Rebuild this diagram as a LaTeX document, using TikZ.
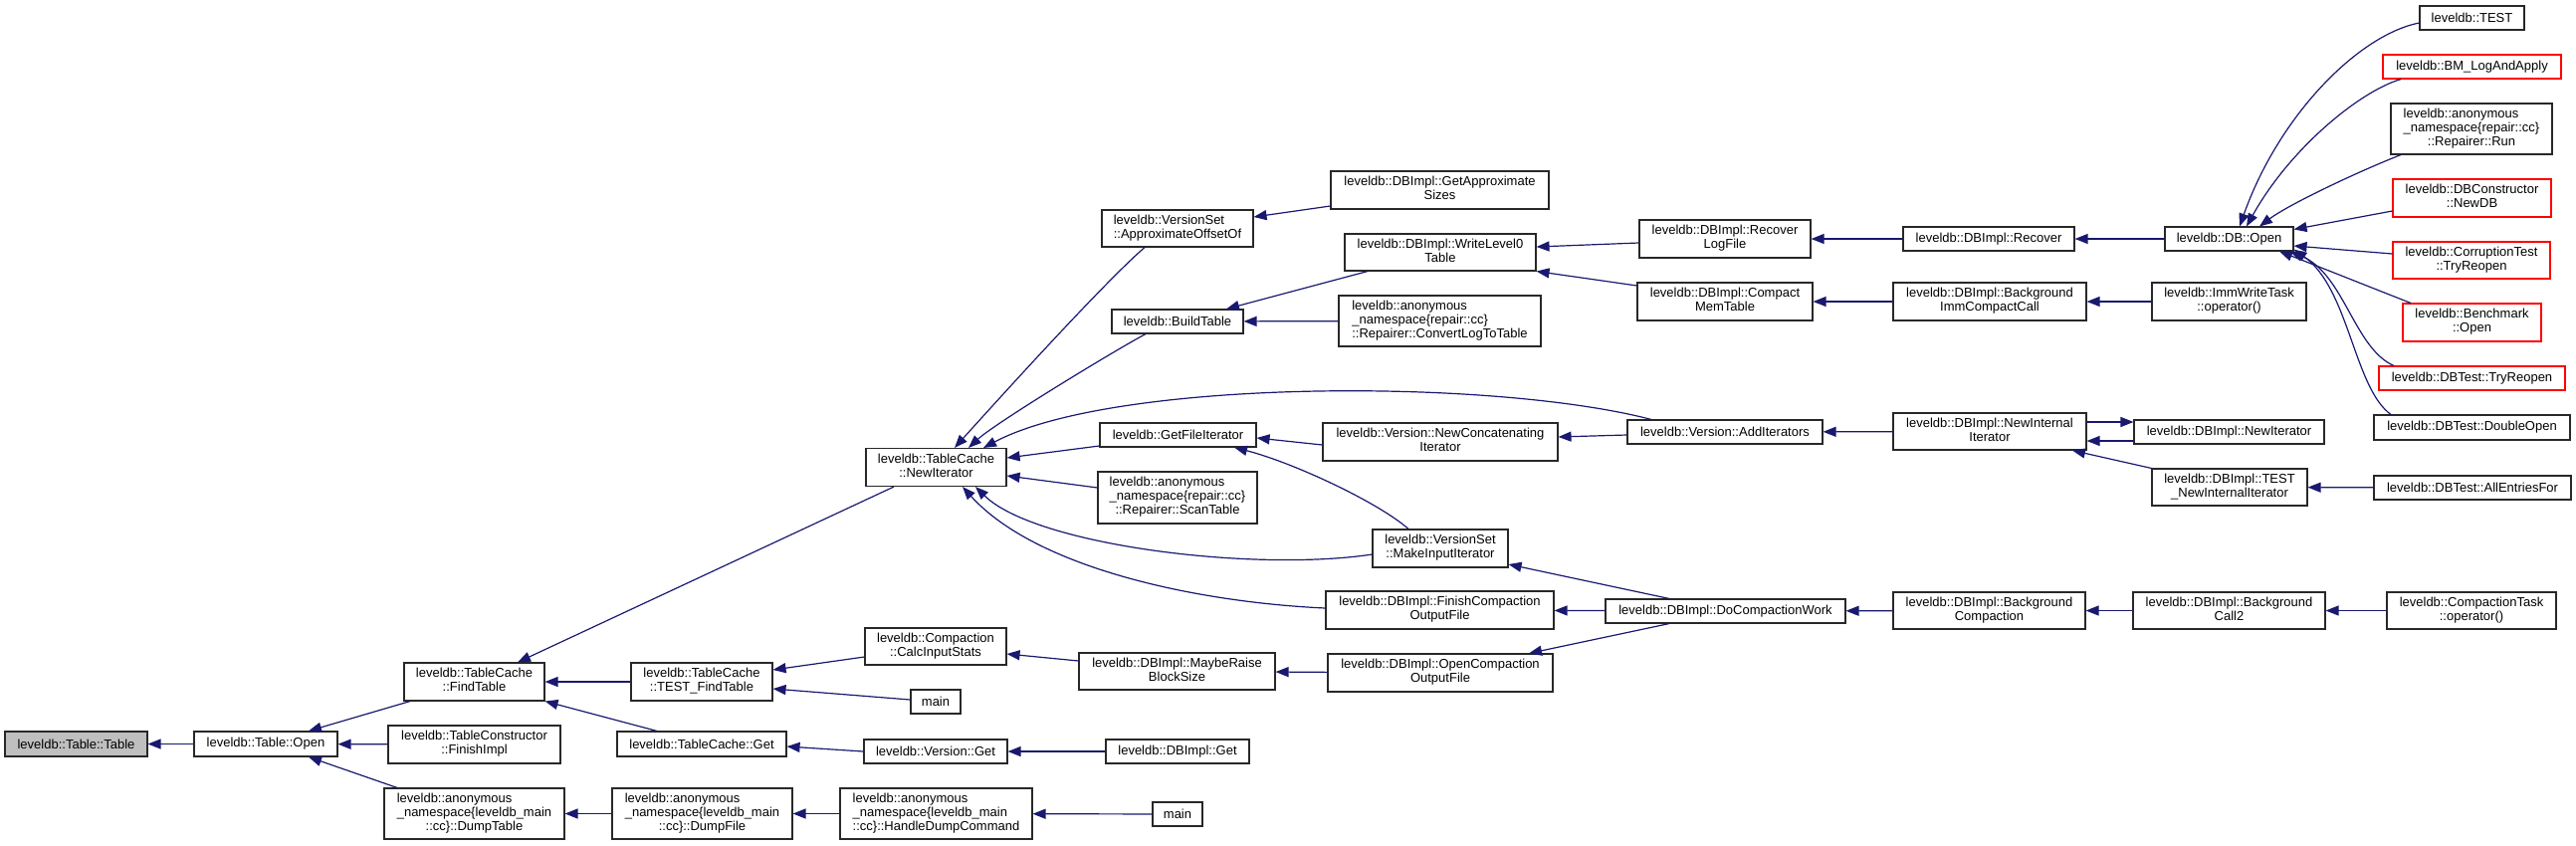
\documentclass[tikz,border=0pt]{standalone}
\usepackage{fontspec}
\setmainfont{Liberation Sans}
\usetikzlibrary{arrows.meta}
\definecolor{edgeblue}{RGB}{25,25,112}
\definecolor{nodegray}{RGB}{191,191,191}
\definecolor{boxline}{RGB}{40,40,40}
\newcommand\twol[2]{\begin{tabular}{@{}l@{}}#1\\\multicolumn{1}{@{}c@{}}{#2}\end{tabular}}
\newcommand\threel[3]{\begin{tabular}{@{}l@{}}#1\\#2\\\multicolumn{1}{@{}c@{}}{#3}\end{tabular}}
\begin{document}
\begin{tikzpicture}[x=1pt,y=-1pt,
  font=\fontsize{13}{14}\selectfont,
  nbox/.style={draw=boxline,line width=1.1pt,fill=white,inner sep=0pt,minimum height=24pt,align=center},
  rbox/.style={nbox,draw=red},
  cedge/.style={draw=edgeblue,line width=1.2pt,-{Triangle[length=13pt,width=10pt]}}]
\fill[white] (0,0) rectangle (2588,849);
\useasboundingbox (0,0) rectangle (2588,849);
% column 1-2
\node[nbox,fill=nodegray,minimum width=143pt,minimum height=25pt] (tt) at (76.5,747.5) {leveldb::Table::Table};
\node[nbox,minimum width=144pt,minimum height=25pt] (topen) at (267,747.5) {leveldb::Table::Open};
% column 3
\node[nbox,minimum width=141pt,minimum height=38pt] (find) at (476.5,685) {\twol{leveldb::TableCache}{::FindTable}};
\node[nbox,minimum width=173pt,minimum height=38pt] (finish) at (476.5,748) {\twol{leveldb::TableConstructor}{::FinishImpl}};
\node[nbox,minimum width=181pt,minimum height=51pt] (dumptable) at (476.5,817.5) {\threel{leveldb::anonymous}{\_namespace\{leveldb\_main}{::cc\}::DumpTable}};
% column 4
\node[nbox,minimum width=142pt,minimum height=38pt] (testfind) at (705,685) {\twol{leveldb::TableCache}{::TEST\_FindTable}};
\node[nbox,minimum width=170pt,minimum height=25pt] (tcget) at (705,747.5) {leveldb::TableCache::Get};
\node[nbox,minimum width=181pt,minimum height=51pt] (dumpfile) at (705.5,817.5) {\threel{leveldb::anonymous}{\_namespace\{leveldb\_main}{::cc\}::DumpFile}};
% column 5
\node[nbox,minimum width=141pt,minimum height=38pt] (newit) at (940.5,469.5) {\twol{leveldb::TableCache}{::NewIterator}};
\node[nbox,minimum width=142pt,minimum height=37pt] (calc) at (940,649.5) {\twol{leveldb::Compaction}{::CalcInputStats}};
\node[nbox,minimum width=50pt] (main1) at (940,705) {main};
\node[nbox,minimum width=144pt] (vget) at (940,755) {leveldb::Version::Get};
\node[nbox,minimum width=193pt,minimum height=51pt] (handle) at (940.5,817.5) {\threel{leveldb::anonymous}{\_namespace\{leveldb\_main}{::cc\}::HandleDumpCommand}};
% column 6
\node[nbox,minimum width=152pt,minimum height=37pt] (approx) at (1183,229.5) {\twol{leveldb::VersionSet}{::ApproximateOffsetOf}};
\node[nbox,minimum width=132pt] (build) at (1183,323) {leveldb::BuildTable};
\node[nbox,minimum width=157pt] (getfile) at (1183.5,437) {leveldb::GetFileIterator};
\node[nbox,minimum width=160pt,minimum height=52pt] (scan) at (1183,500) {\threel{leveldb::anonymous}{\_namespace\{repair::cc\}}{::Repairer::ScanTable}};
\node[nbox,minimum width=197pt,minimum height=37pt] (maybe) at (1182.5,674.5) {\twol{leveldb::DBImpl::MaybeRaise}{BlockSize}};
\node[nbox,minimum width=144pt] (dbget) at (1183,755) {leveldb::DBImpl::Get};
\node[nbox,minimum width=50pt] (main2) at (1183,818) {main};
% column 7
\node[nbox,minimum width=219pt,minimum height=38pt] (gas) at (1446.5,191) {\twol{leveldb::DBImpl::GetApproximate}{Sizes}};
\node[nbox,minimum width=192pt,minimum height=37pt] (wl0) at (1447,253.5) {\twol{leveldb::DBImpl::WriteLevel0}{Table}};
\node[nbox,minimum width=203pt,minimum height=51pt] (convert) at (1446.5,322.5) {\threel{leveldb::anonymous}{\_namespace\{repair::cc\}}{::Repairer::ConvertLogToTable}};
\node[nbox,minimum width=236pt,minimum height=38pt] (concat) at (1447,444) {\twol{leveldb::Version::NewConcatenating}{Iterator}};
\node[nbox,minimum width=136pt,minimum height=38pt] (makein) at (1447,551) {\twol{leveldb::VersionSet}{::MakeInputIterator}};
\node[nbox,minimum width=229pt,minimum height=38pt] (finishco) at (1446.5,613) {\twol{leveldb::DBImpl::FinishCompaction}{OutputFile}};
\node[nbox,minimum width=226pt,minimum height=38pt] (openco) at (1447,676) {\twol{leveldb::DBImpl::OpenCompaction}{OutputFile}};
% column 8
\node[nbox,minimum width=172pt,minimum height=38pt] (reclog) at (1733,240) {\twol{leveldb::DBImpl::Recover}{LogFile}};
\node[nbox,minimum width=176pt,minimum height=38pt] (compmem) at (1733,303) {\twol{leveldb::DBImpl::Compact}{MemTable}};
\node[nbox,minimum width=196pt] (additer) at (1733,434) {leveldb::Version::AddIterators};
\node[nbox,minimum width=241pt] (docomp) at (1733.5,614) {leveldb::DBImpl::DoCompactionWork};
% column 9
\node[nbox,minimum width=172pt] (recover) at (1998,240) {leveldb::DBImpl::Recover};
\node[nbox,minimum width=194pt,minimum height=38pt] (bgimm) at (1999,303) {\twol{leveldb::DBImpl::Background}{ImmCompactCall}};
\node[nbox,minimum width=194pt,minimum height=37pt] (newint) at (1999,433.5) {\twol{leveldb::DBImpl::NewInternal}{Iterator}};
\node[nbox,minimum width=193pt,minimum height=37pt] (bgcomp) at (1998.5,613.5) {\twol{leveldb::DBImpl::Background}{Compaction}};
% column 10
\node[nbox,minimum width=129pt] (dbopen) at (2239.5,240) {leveldb::DB::Open};
\node[nbox,minimum width=155pt,minimum height=38pt] (immw) at (2239.5,303) {\twol{leveldb::ImmWriteTask}{::operator()}};
\node[nbox,minimum width=191pt] (dbnewit) at (2239.5,434) {leveldb::DBImpl::NewIterator};
\node[nbox,minimum width=156pt,minimum height=37pt] (testnewint) at (2240,489.5) {\twol{leveldb::DBImpl::TEST}{\_NewInternalIterator}};
\node[nbox,minimum width=193pt,minimum height=37pt] (bgcall2) at (2239.5,613.5) {\twol{leveldb::DBImpl::Background}{Call2}};
% column 11
\node[nbox,minimum width=105pt] (test) at (2483.5,18) {leveldb::TEST};
\node[rbox,minimum width=179pt] (bm) at (2483.5,67) {leveldb::BM\_LogAndApply};
\node[nbox,minimum width=162pt,minimum height=51pt] (run) at (2483,129.5) {\threel{leveldb::anonymous}{\_namespace\{repair::cc\}}{::Repairer::Run}};
\node[rbox,minimum width=159pt,minimum height=38pt] (newdb) at (2483.5,199) {\twol{leveldb::DBConstructor}{::NewDB}};
\node[rbox,minimum width=158pt,minimum height=37pt] (corr) at (2483,261.5) {\twol{leveldb::CorruptionTest}{::TryReopen}};
\node[rbox,minimum width=139pt,minimum height=38pt] (bench) at (2483.5,324) {\twol{leveldb::Benchmark}{::Open}};
\node[rbox,minimum width=187pt] (dbtry) at (2483.5,380) {leveldb::DBTest::TryReopen};
\node[nbox,minimum width=197pt,minimum height=25pt] (dbl) at (2483.5,429.5) {leveldb::DBTest::DoubleOpen};
\node[nbox,minimum width=198pt] (allent) at (2484,490) {leveldb::DBTest::AllEntriesFor};
\node[nbox,minimum width=170pt,minimum height=37pt] (ctask) at (2483,613.5) {\twol{leveldb::CompactionTask}{::operator()}};
% edges
\draw[cedge] (topen) -- (tt);
\draw[cedge] ([xshift=-64.5pt]find.south) -- ([xshift=43pt]topen.north);
\draw[cedge] (finish) -- (topen);
\draw[cedge] ([xshift=-77.5pt]dumptable.north) -- ([xshift=43pt]topen.south);
\draw[cedge] ([xshift=-42.5pt]newit.south) -- ([xshift=43.5pt]find.north);
\draw[cedge] (testfind) -- (find);
\draw[cedge] ([xshift=-45pt]tcget.north) -- (find.south east);
\draw[cedge] ([yshift=-10.5pt]calc.west) -- ([yshift=12pt]testfind.east);
\draw[cedge] ([yshift=2pt]main1.west) -- ([yshift=-7pt]testfind.east);
\draw[cedge] (vget.west) -- ([yshift=-2.5pt]tcget.east);
\draw[cedge] (dumpfile) -- (dumptable);
\draw[cedge] (handle) -- (dumpfile);
\draw[cedge] (main2) -- (handle);
\draw[cedge] ([xshift=-33pt]approx.south) .. controls (1110,283) and (1004,400) .. ([xshift=18.5pt]newit.north);
\draw[cedge] ([xshift=-32pt]build.south) .. controls (1120,352) and (1000,425) .. ([xshift=32.5pt]newit.north);
\draw[cedge] ([xshift=-74pt]additer.north) .. controls (1500,380) and (1120,380) .. ([xshift=47.5pt]newit.north);
\draw[cedge] ([yshift=-11pt]getfile.west) -- ([yshift=9.5pt]newit.east);
\draw[cedge] ([yshift=10pt]scan.west) -- ([yshift=-8.5pt]newit.east);
\draw[cedge] ([yshift=-6pt]makein.west) .. controls (1260,575) and (1040,548) .. ([xshift=39.5pt]newit.south);
\draw[cedge] ([yshift=2pt]finishco.west) .. controls (1200,605) and (1040,570) .. ([xshift=26.5pt]newit.south);
\draw[cedge] ([yshift=-16pt]gas.west) -- ([yshift=11.5pt]approx.east);
\draw[cedge] ([xshift=-73pt]wl0.south) -- ([xshift=49pt]build.north);
\draw[cedge] (convert) -- (build);
\draw[cedge] ([yshift=-4pt]reclog.west) -- ([yshift=5.5pt]wl0.east);
\draw[cedge] ([yshift=16pt]compmem.west) -- (wl0.south east);
\draw[cedge] (recover) -- (reclog);
\draw[cedge] (dbopen) -- (recover);
\draw[cedge] (bgimm) -- (compmem);
\draw[cedge] (immw) -- (bgimm);
\draw[cedge] ([yshift=-3pt]concat.west) -- ([yshift=-3pt]getfile.east);
\draw[cedge] ([xshift=-32pt]makein.north) .. controls (1385,505) and (1300,465) .. ([xshift=56.5pt]getfile.south);
\draw[cedge] ([yshift=-3pt]additer.west) -- ([yshift=5pt]concat.east);
\draw[cedge] (newint) -- (additer);
\draw[cedge] ([yshift=9.5pt]newint.east) -- ([yshift=10pt]dbnewit.west);
\draw[cedge] ([yshift=-9pt]dbnewit.west) -- ([yshift=-9.5pt]newint.east);
\draw[cedge] (testnewint.north west) -- ([xshift=83pt]newint.south);
\draw[cedge] (allent) -- (testnewint);
\draw[cedge] ([xshift=-56.5pt]docomp.north) -- ([yshift=-16pt]makein.east);
\draw[cedge] (docomp) -- (finishco);
\draw[cedge] ([xshift=-56.5pt]docomp.south) -- ([xshift=89pt]openco.north);
\draw[cedge] (openco) -- (maybe);
\draw[cedge] ([yshift=10.5pt]maybe.west) -- ([yshift=-7.5pt]calc.east);
\draw[cedge] (dbget) -- (vget);
\draw[cedge] (bgcomp) -- (docomp);
\draw[cedge] (bgcall2) -- (bgcomp);
\draw[cedge] (ctask) -- (bgcall2);
% DB::Open callers
\draw[cedge] ([yshift=-5pt]test.west) .. controls (2370,35) and (2290,115) .. ([xshift=10.5pt]dbopen.north);
\draw[cedge] ([xshift=-71.5pt]bm.south) .. controls (2370,92) and (2300,150) .. ([xshift=17.5pt]dbopen.north);
\draw[cedge] ([xshift=-71pt]run.south) .. controls (2370,172) and (2300,205) .. ([xshift=30.5pt]dbopen.north);
\draw[cedge] ([yshift=-13pt]newdb.west) -- ([yshift=-3pt]dbopen.north east);
\draw[cedge] ([yshift=6.5pt]corr.west) -- ([yshift=-7pt]dbopen.east);
\draw[cedge] ([xshift=-61.5pt]bench.north) .. controls (2390,292) and (2330,268) .. ([xshift=50.5pt]dbopen.south);
\draw[cedge] ([xshift=-78.5pt]dbtry.north) .. controls (2365,350) and (2355,275) .. ([xshift=-4pt]dbopen.south east);
\draw[cedge] ([xshift=-81.5pt]dbl.north) .. controls (2365,390) and (2360,290) .. ([yshift=2pt]dbopen.south east);
\end{tikzpicture}
\end{document}
